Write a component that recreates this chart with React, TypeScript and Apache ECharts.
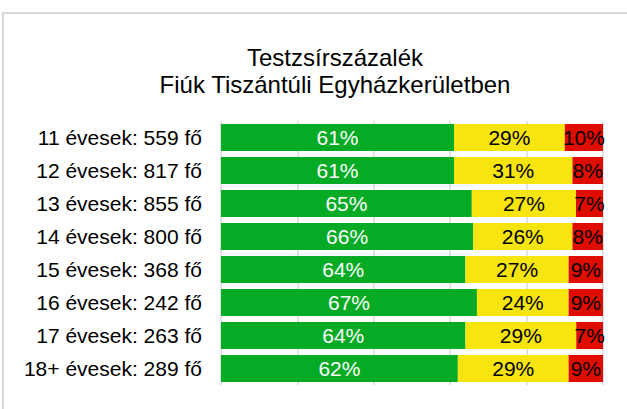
import React, { useEffect, useRef } from "react";
import * as echarts from "echarts";

const titleLines = ["Testzsírszázalék", "Fiúk Tiszántúli Egyházkerületben"];
const categories = [
  "11 évesek: 559 fő",
  "12 évesek: 817 fő",
  "13 évesek: 855 fő",
  "14 évesek: 800 fő",
  "15 évesek: 368 fő",
  "16 évesek: 242 fő",
  "17 évesek: 263 fő",
  "18+ évesek: 289 fő",
];
const greenValues = [61, 61, 65, 66, 64, 67, 64, 62];
const yellowValues = [29, 31, 27, 26, 27, 24, 29, 29];
const redValues = [10, 8, 7, 8, 9, 9, 7, 9];

const FONT = "'Liberation Sans', Arial, sans-serif";

export default function App() {
  const ref = useRef<HTMLDivElement>(null);
  useEffect(() => {
    if (!ref.current) return;
    const chart = echarts.init(ref.current, undefined, { renderer: "svg" });
    const sums = greenValues.map((g, i) => g + yellowValues[i] + redValues[i]);
    const mk = (name: string, vals: number[], color: string, labelColor: string) => ({
      name,
      type: "bar",
      stack: "total",
      barWidth: 27,
      data: vals.map((v, i) => (v / sums[i]) * 100),
      itemStyle: { color },
      label: {
        show: true,
        position: "inside",
        color: labelColor,
        fontSize: 21,
        fontFamily: FONT,
        formatter: (p: any) => `${vals[p.dataIndex]}%`,
      },
      emphasis: { disabled: true },
    });
    chart.setOption({
      animation: false,
      title: {
        text: titleLines.join("\n"),
        left: 330,
        textAlign: "center",
        top: 39,
        textStyle: {
          fontFamily: FONT,
          fontSize: 24,
          fontWeight: "normal",
          color: "#000",
          lineHeight: 27,
        },
      },
      graphic: [
        {
          type: "rect",
          shape: { x: 3, y: 13, width: 700, height: 500 },
          style: { fill: "none", stroke: "#d9d9d9", lineWidth: 2 },
          silent: true,
        },
      ],
      grid: { left: 221, right: 24, top: 121, bottom: 24 },
      xAxis: {
        type: "value",
        min: 0,
        max: 100,
        interval: 20,
        axisLabel: { show: false },
        axisLine: { show: false },
        axisTick: { show: false },
        splitLine: { show: true, lineStyle: { color: "#d9d9d9", width: 1.5 } },
      },
      yAxis: {
        type: "category",
        data: categories,
        inverse: true,
        axisLine: { show: false },
        axisTick: { show: false },
        axisLabel: {
          color: "#000",
          fontSize: 21,
          fontFamily: FONT,
          margin: 19,
        },
      },
      series: [
        mk("green", greenValues, "#05ab24", "#ffffff"),
        mk("yellow", yellowValues, "#f6e50e", "#000000"),
        mk("red", redValues, "#df0c00", "#000000"),
      ],
    });
    return () => chart.dispose();
  }, []);
  return (
    <div
      ref={ref}
      style={{ position: "fixed", left: 0, top: 0, width: 627, height: 409, background: "#fff" }}
    />
  );
}
